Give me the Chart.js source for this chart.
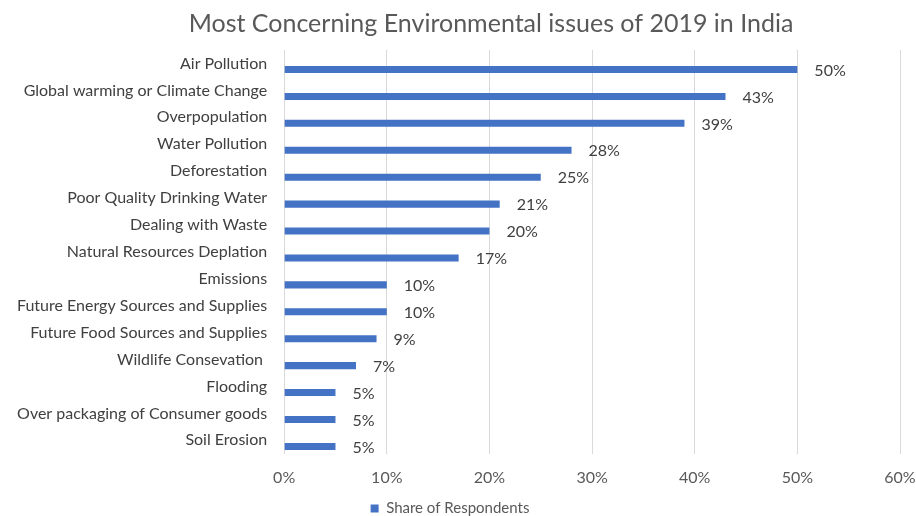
<!DOCTYPE html>
<html>
<head>
<meta charset="utf-8">
<script src="https://cdn.jsdelivr.net/npm/chart.js@4.4.0/dist/chart.umd.min.js"></script>
<style>
  html, body { margin: 0; padding: 0; background: #fff; }
  #wrap { width: 916px; height: 516px; }
</style>
</head>
<body>
<div id="wrap"><canvas id="chart" width="916" height="516"></canvas></div>
<script>
// chart data
const issues = [
  'Air Pollution',
  'Global warming or Climate Change',
  'Overpopulation',
  'Water Pollution',
  'Deforestation',
  'Poor Quality Drinking Water',
  'Dealing with Waste',
  'Natural Resources Deplation',
  'Emissions',
  'Future Energy Sources and Supplies',
  'Future Food Sources and Supplies',
  'Wildlife Consevation ',
  'Flooding',
  'Over packaging of Consumer goods',
  'Soil Erosion'
];
const shareOfRespondents = [50, 43, 39, 28, 25, 21, 20, 17, 10, 10, 9, 7, 5, 5, 5];
const xTicks = [0, 10, 20, 30, 40, 50, 60];

const textColor = '#595959';
const fontFamily = 'Lato, "Open Sans", sans-serif';

// empty series in front pushes the real bar a bit below the category label (like the original)
const spacer = issues.map(() => null);

// draws the % labels to the right of each bar
const barLabels = {
  id: 'barLabels',
  afterDatasetsDraw(chart) {
    const ctx = chart.ctx;
    const meta = chart.getDatasetMeta(1);
    ctx.save();
    ctx.font = '16px ' + fontFamily;
    ctx.fillStyle = '#404040';
    ctx.textBaseline = 'middle';
    ctx.textAlign = 'left';
    meta.data.forEach((bar, i) => {
      ctx.fillText(shareOfRespondents[i] + '%', bar.x + 17, bar.y + 1);
    });
    ctx.restore();
  }
};

// the original title sits a bit right of the canvas centre
const titleShift = {
  id: 'titleShift',
  afterLayout(chart) {
    if (chart.titleBlock) chart.titleBlock.left += 82;
  }
};

new Chart(document.getElementById('chart'), {
  type: 'bar',
  data: {
    labels: issues,
    datasets: [
      {
        label: '',
        data: spacer,
        backgroundColor: 'rgba(0,0,0,0)'
      },
      {
        label: 'Share of Respondents',
        data: shareOfRespondents,
        backgroundColor: '#4472C4',
        borderWidth: 0
      }
    ]
  },
  options: {
    indexAxis: 'y',
    responsive: false,
    animation: false,
    categoryPercentage: 0.9,
    barPercentage: 0.58,
    layout: { padding: { left: 0, right: 16, top: 3, bottom: -10 } },
    plugins: {
      title: {
        display: true,
        text: 'Most Concerning Environmental issues of 2019 in India',
        color: textColor,
        font: { family: fontFamily, size: 25, weight: 'normal' },
        padding: { top: 6, bottom: 11 }
      },
      legend: {
        position: 'bottom',
        labels: {
          color: textColor,
          font: { family: fontFamily, size: 15 },
          boxWidth: 8,
          boxHeight: 8,
          padding: 0,
          filter: item => item.text !== ''
        }
      },
      tooltip: { enabled: false }
    },
    scales: {
      x: {
        min: 0,
        max: 60,
        afterBuildTicks: axis => { axis.ticks = xTicks.map(v => ({ value: v })); },
        // let the 60% label hang past the plot edge, as in the original
        afterFit: axis => { axis.paddingRight = 0; },
        ticks: {
          color: textColor,
          font: { family: fontFamily, size: 16 },
          padding: 14,
          callback: v => v + '%'
        },
        grid: { color: '#d9d9d9', drawTicks: false },
        border: { display: false }
      },
      y: {
        ticks: {
          color: '#404040',
          font: { family: fontFamily, size: 16 },
          padding: 17,
          autoSkip: false
        },
        grid: { display: false, drawTicks: false },
        border: { display: false }
      }
    }
  },
  plugins: [barLabels, titleShift]
});
</script>
</body>
</html>
